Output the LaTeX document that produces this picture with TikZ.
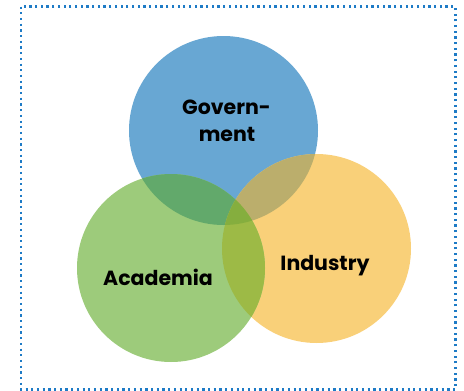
\documentclass[tikz,border=0pt]{standalone}
\usepackage{fontspec}
\setmainfont{Poppins}
\definecolor{govblue}{HTML}{68A7D3}
\definecolor{acagreen}{HTML}{9DCB7B}
\definecolor{indyellow}{HTML}{F9D079}
\definecolor{bgcol}{HTML}{62A96B}
\definecolor{bycol}{HTML}{BBAE6C}
\definecolor{gycol}{HTML}{9DBA46}
\definecolor{tricol}{HTML}{85AE3E}
\definecolor{framecol}{HTML}{1E7BC6}
\tikzset{lbl/.style={font=\bfseries\fontsize{20.5}{27}\selectfont, anchor=base, inner sep=0pt, align=center}}
\begin{document}
\begin{tikzpicture}[x=1pt,y=-1pt]
\useasboundingbox (0,0) rectangle (464,391);
\coordinate (gc) at (223.5,130.5);
\coordinate (ac) at (171,268);
\coordinate (ic) at (316.5,248.5);
\def\gpath{(gc) circle [radius=94.5pt]}
\def\apath{(ac) circle [radius=94pt]}
\def\ipath{(ic) circle [radius=94.5pt]}
\fill[govblue] \gpath;
\fill[indyellow] \ipath;
\fill[acagreen] \apath;
\begin{scope}\clip \gpath; \fill[bgcol] \apath; \end{scope}
\begin{scope}\clip \gpath; \fill[bycol] \ipath; \end{scope}
\begin{scope}\clip \apath; \fill[gycol] \ipath; \end{scope}
\begin{scope}\clip \gpath; \clip \apath; \fill[tricol] \ipath; \end{scope}
\draw[framecol, line width=2.2pt, dash pattern=on 2.2pt off 3.5pt] (21,6.5) rectangle (455.5,389.5);
\node[lbl] (gov) at (226.5,114) {Govern-};
\node[lbl] (gov2) at (227,141.5) {ment};
\node[lbl] (aca) at (158,285) {Academia};
\node[lbl] (ind) at (325,270) {Industry};
\end{tikzpicture}
\end{document}
